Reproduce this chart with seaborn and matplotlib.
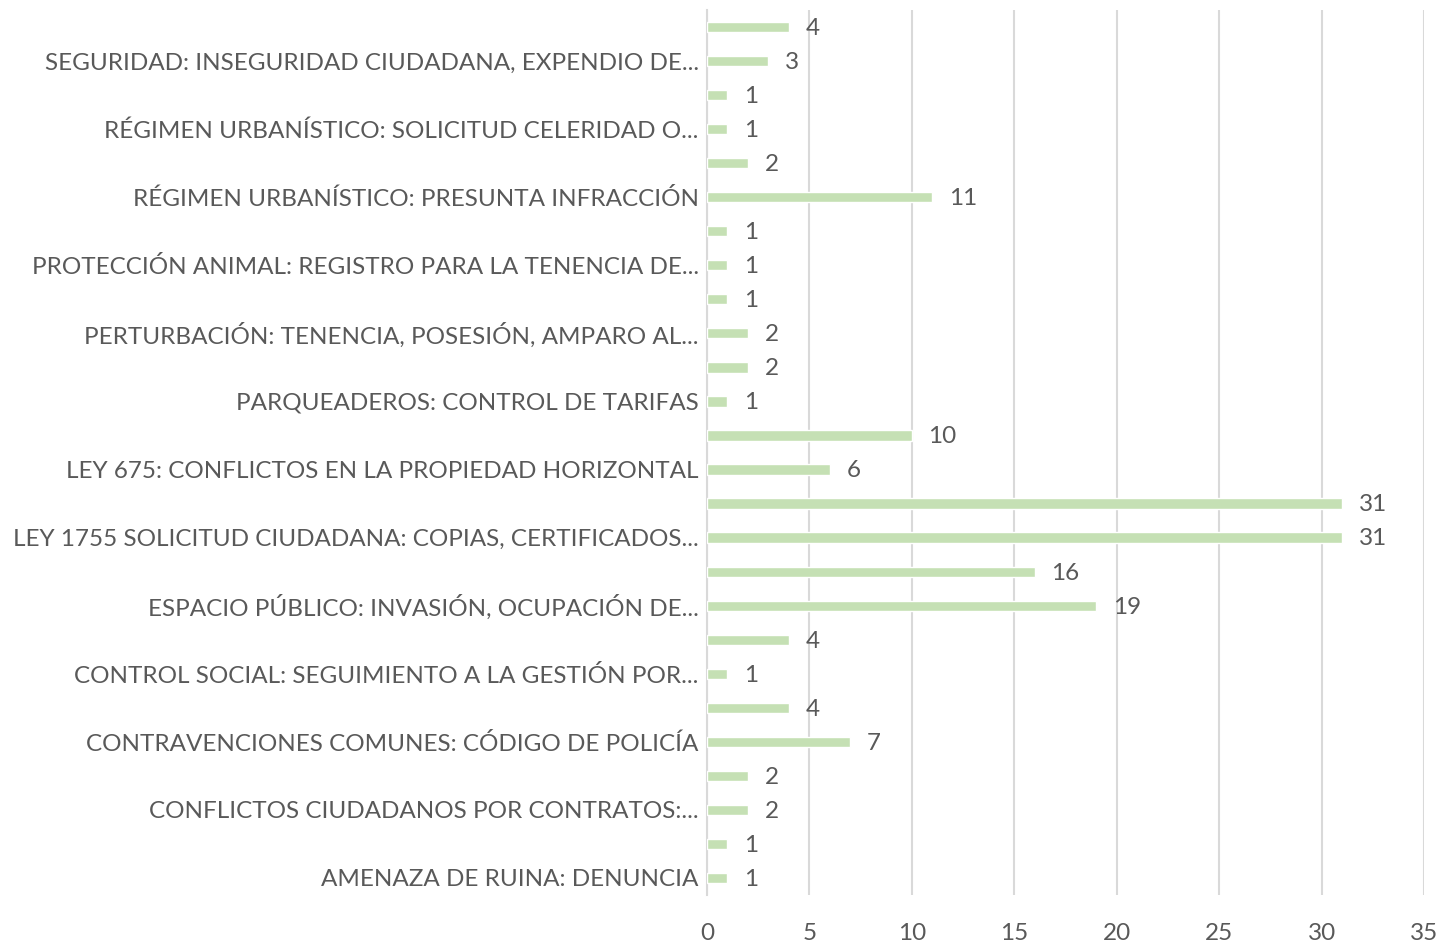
import matplotlib
matplotlib.use("Agg")
import matplotlib.pyplot as plt
import seaborn as sns
import pandas as pd

labels = [
    "", "SEGURIDAD: INSEGURIDAD CIUDADANA, EXPENDIO DE...",
    "", "RÉGIMEN URBANÍSTICO: SOLICITUD CELERIDAD O...",
    "", "RÉGIMEN URBANÍSTICO: PRESUNTA INFRACCIÓN",
    "", "PROTECCIÓN ANIMAL: REGISTRO PARA LA TENENCIA DE...",
    "", "PERTURBACIÓN: TENENCIA, POSESIÓN, AMPARO AL...",
    "", "PARQUEADEROS: CONTROL DE TARIFAS",
    "", "LEY 675: CONFLICTOS EN LA PROPIEDAD HORIZONTAL",
    "", "LEY 1755 SOLICITUD CIUDADANA: COPIAS, CERTIFICADOS...",
    "", "ESPACIO PÚBLICO: INVASIÓN, OCUPACIÓN DE...",
    "", "CONTROL SOCIAL: SEGUIMIENTO A LA GESTIÓN POR...",
    "", "CONTRAVENCIONES COMUNES: CÓDIGO DE POLICÍA",
    "", "CONFLICTOS CIUDADANOS POR CONTRATOS:...",
    "", "AMENAZA DE RUINA: DENUNCIA",
]
values = [4, 3, 1, 1, 2, 11, 1, 1, 1, 2, 2, 1, 10, 6, 31, 31, 16, 19, 4, 1, 4, 7, 2, 2, 1, 1]
x_ticks = [0, 5, 10, 15, 20, 25, 30, 35]

sns.set_theme(style="white")
plt.rcParams["font.family"] = ["Lato", "DejaVu Sans"]

ids = [f"c{i}" for i in range(len(values))]
df = pd.DataFrame({"cat": ids, "val": values})

fig = plt.figure(figsize=(14.41, 9.44), dpi=100)
ax = fig.add_axes([707 / 1441, 1 - 895 / 944, (1424 - 707) / 1441, 885 / 944])

sns.barplot(data=df, x="val", y="cat", orient="h", color="#C5E0B4",
            saturation=1, width=0.3, ax=ax, zorder=3)

ax.set_xlim(0, 35)
ax.set_ylim(len(values) - 0.5, -0.5)
ax.set_xticks(x_ticks)
ax.set_xticklabels([str(t) for t in x_ticks])
ax.set_yticks(range(len(values)))
ax.set_yticklabels(labels)
ax.set_xlabel("")
ax.set_ylabel("")
ax.grid(axis="x", color="#D9D9D9", linewidth=1.5, zorder=0)
ax.grid(axis="y", visible=False)
for s in ["top", "right", "bottom"]:
    ax.spines[s].set_visible(False)
ax.spines["left"].set_color("#D9D9D9")
ax.spines["left"].set_linewidth(1.5)
ax.tick_params(axis="both", length=0, labelsize=17.5, colors="#595959")
ax.tick_params(axis="y", pad=6)
ax.tick_params(axis="x", pad=20)

for i, v in enumerate(values):
    ax.annotate(str(v), xy=(v, i), xytext=(12, -1), textcoords="offset points",
                va="center", ha="left", fontsize=17.5, color="#595959")

fig.savefig("out.png", dpi=100)
